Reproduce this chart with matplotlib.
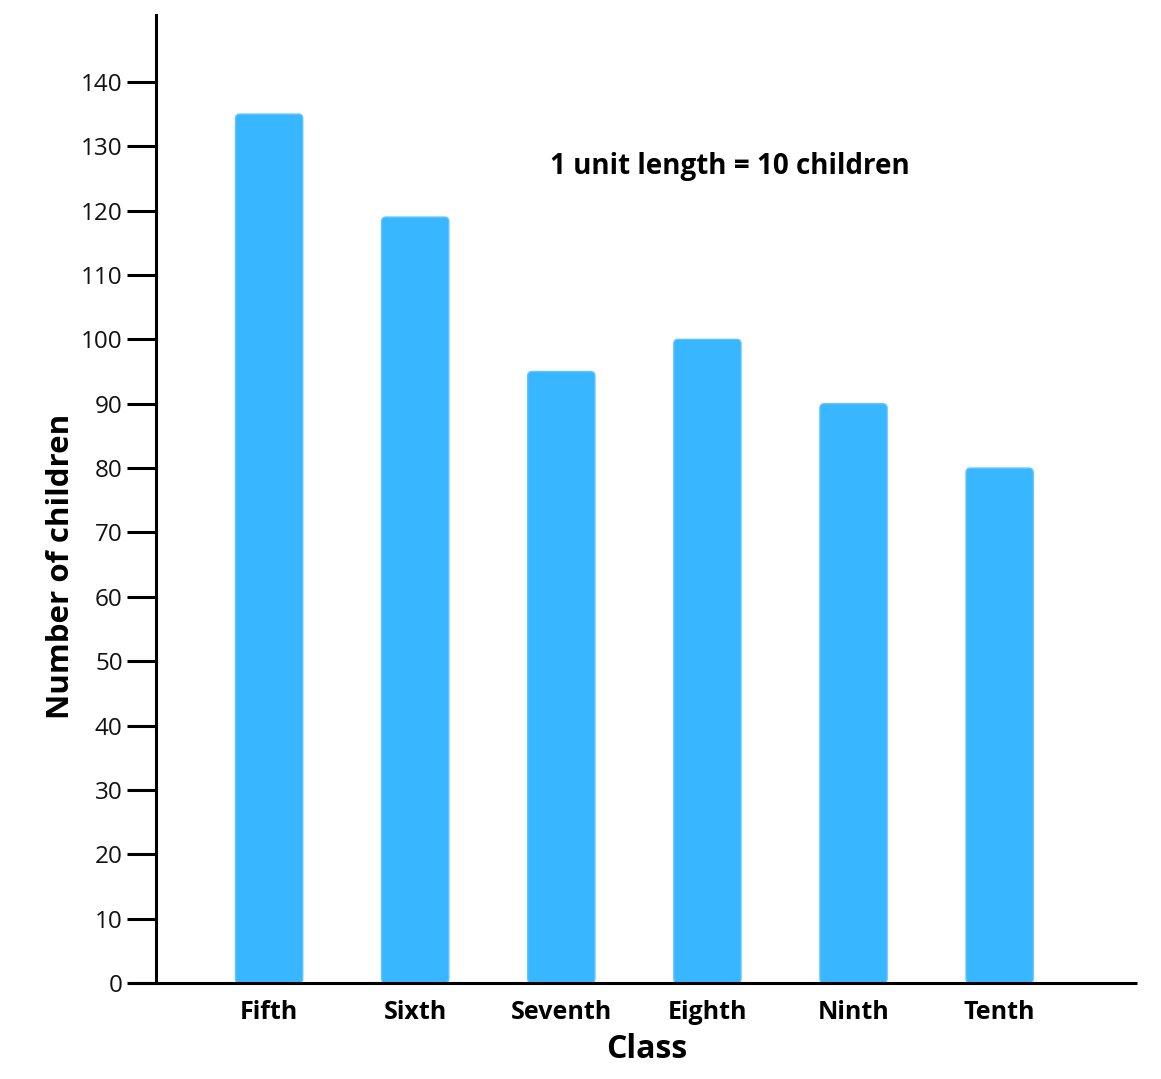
import matplotlib
matplotlib.use("Agg")
import matplotlib.pyplot as plt
from matplotlib.patches import FancyBboxPatch

classes = ["Fifth", "Sixth", "Seventh", "Eighth", "Ninth", "Tenth"]
children = [135, 119, 95, 100, 90, 80]
yticks = [0, 10, 20, 30, 40, 50, 60, 70, 80, 90, 100, 110, 120, 130, 140]

plt.rcParams['font.family'] = ['Open Sans', 'DejaVu Sans']

fig = plt.figure(figsize=(11.61, 10.79), dpi=100)
ax = fig.add_axes([0.1344, 0.0890, 0.8449, 0.8971])

color = "#38B6FF"
width = 0.46
x = list(range(len(classes)))
ax.set_xlim(-0.774, 5.94)
ax.set_ylim(0, 150.4)

bars = ax.bar(x, children, width=width, color=color)
# aspect for rounded corners (data y-units per x-unit in pixels)
bbox = ax.get_window_extent()
aspect = (150.4 / bbox.height) / ((5.94 + 0.774) / bbox.width)
for b in bars:
    b.set_visible(False)
    p = FancyBboxPatch((b.get_x(), b.get_y()), b.get_width(), b.get_height(),
                       boxstyle="round,pad=0,rounding_size=0.03",
                       mutation_aspect=aspect,
                       facecolor=color, edgecolor="#5cc4ff", linewidth=1.0)
    ax.add_patch(p)

ax.spines['top'].set_visible(False)
ax.spines['right'].set_visible(False)
ax.spines['left'].set_linewidth(2.2)
ax.spines['bottom'].set_visible(False)
ax.plot([-0.027, 1.0], [0, 0], transform=ax.transAxes, color="black",
        linewidth=2.2, clip_on=False, solid_capstyle="butt")

ax.set_yticks(yticks)
ax.set_yticklabels([str(v) for v in yticks], fontsize=17.5)
ax.tick_params(axis='y', length=21, width=2.2, pad=3, labelcolor="#111111")

ax.set_xticks(x)
ax.set_xticklabels(classes, fontsize=18, fontweight="bold")
ax.tick_params(axis='x', length=0, pad=12)

ax.set_ylabel("Number of children", fontsize=22.5, fontweight="bold")
ax.yaxis.set_label_coords(-0.082, 0.43)
ax.set_xlabel("Class", fontsize=23, fontweight="bold")
ax.xaxis.set_label_coords(0.5, -0.052)

ax.text(0.585, 0.844, "1 unit length = 10 children", transform=ax.transAxes,
        ha="center", va="center", fontsize=20, fontweight="bold")

fig.savefig("out.png", dpi=100)
